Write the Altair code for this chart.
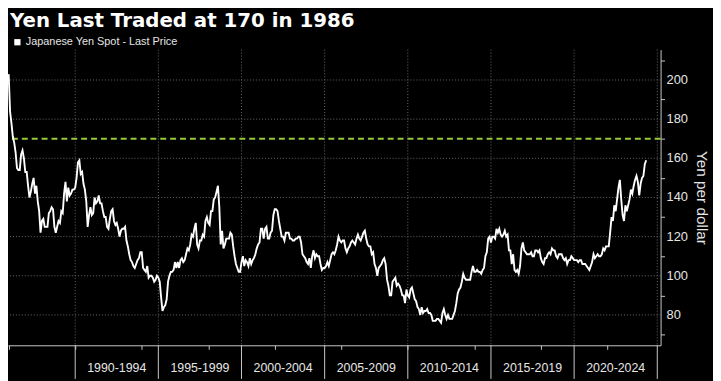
import altair as alt
import pandas as pd

# Monthly USD/JPY (yen per dollar), Jan 1986 onward
jpy_1986_1989 = [
    203, 184, 178, 171, 168, 163, 155, 154, 154, 162, 164, 160,
    153, 153, 146, 140, 143, 147, 150, 142, 146, 138, 133, 122,
    128, 129, 125, 125, 125, 132, 133, 135, 134, 125, 122, 125,
    128, 127, 133, 132, 142, 148, 138, 145, 141, 142, 144, 144,
]
jpy_1990s = [
    145, 150, 158, 159, 152, 153, 147, 144, 138, 125, 131, 135,
    131, 132, 140, 137, 138, 141, 137, 137, 133, 130, 130, 125,
    124, 129, 133, 134, 128, 126, 127, 124, 120, 123, 124, 124,
    125, 118, 115, 111, 108, 107, 105, 104, 106, 108, 109, 112,
    112, 104, 103, 102, 105, 99, 100, 100, 99, 97, 98, 100,
    99, 97, 89, 82, 84, 85, 88, 97, 100, 102, 102, 103,
    107, 104, 107, 104, 108, 109, 107, 108, 111, 114, 113, 116,
    121, 120, 124, 127, 116, 114, 118, 118, 121, 120, 128, 130,
    127, 126, 133, 133, 139, 140, 143, 146, 135, 116, 123, 114,
    116, 119, 119, 119, 122, 121, 115, 110, 106, 104, 102, 102,
]
jpy_2000s = [
    107, 110, 105, 108, 107, 105, 109, 106, 108, 109, 111, 114,
    116, 117, 124, 124, 119, 124, 125, 119, 119, 122, 123, 131,
    134, 134, 133, 128, 124, 120, 120, 118, 122, 122, 122, 119,
    119, 118, 118, 119, 119, 120, 120, 117, 111, 110, 109, 107,
    106, 109, 104, 110, 113, 109, 111, 110, 110, 106, 103, 104,
    104, 105, 107, 105, 108, 111, 112, 111, 113, 116, 120, 118,
    117, 118, 118, 114, 112, 114, 115, 117, 118, 117, 116, 119,
    121, 119, 118, 120, 122, 123, 119, 116, 115, 115, 111, 112,
    106, 104, 100, 104, 105, 106, 108, 109, 106, 98, 95, 90,
    90, 97, 98, 99, 95, 96, 95, 93, 90, 90, 86, 93,
]
jpy_2010s = [
    90, 89, 93, 94, 91, 88, 87, 84, 83, 80, 84, 81,
    82, 82, 83, 81, 81, 80, 77, 77, 77, 78, 78, 77,
    76, 81, 83, 80, 78, 80, 78, 78, 78, 80, 82, 86,
    91, 93, 94, 97, 101, 99, 98, 98, 98, 98, 102, 105,
    102, 102, 103, 102, 102, 101, 103, 104, 110, 112, 119, 120,
    117, 120, 120, 119, 124, 122, 124, 121, 120, 121, 123, 120,
    121, 113, 113, 106, 111, 103, 102, 103, 101, 105, 114, 117,
    113, 112, 111, 111, 111, 112, 110, 110, 113, 113, 112, 113,
    109, 107, 106, 109, 109, 111, 112, 111, 114, 113, 113, 110,
    109, 111, 111, 111, 109, 108, 109, 106, 108, 108, 110, 109,
]
jpy_2020s = [
    108, 108, 108, 107, 108, 108, 106, 106, 106, 105, 104, 103,
    105, 107, 111, 109, 110, 111, 110, 110, 111, 114, 113, 115,
    115, 115, 122, 130, 128, 136, 133, 139, 145, 149, 139, 131,
    128, 136, 133, 136, 139, 144, 142, 146, 149, 151, 148, 141,
    147, 150, 151, 157, 159,
]
start_year = 1986
series_name = "Japanese Yen Spot - Last Price"

period_labels = ["1990-1994", "1995-1999", "2000-2004", "2005-2009",
                 "2010-2014", "2015-2019", "2020-2024"]
period_starts = [1990, 1995, 2000, 2005, 2010, 2015, 2020]
boundaries = [1990, 1995, 2000, 2005, 2010, 2015, 2020, 2025]
y_labels = [80, 100, 120, 140, 160, 180, 200]
y_ticks = [70, 80, 90, 100, 110, 120, 130, 140, 150, 160, 170, 180, 190, 200, 210]
ref_level = 170

values = jpy_1986_1989 + jpy_1990s + jpy_2000s + jpy_2010s + jpy_2020s
df = pd.DataFrame({
    "t": [start_year + i / 12 for i in range(len(values))],
    "v": values,
    "s": series_name,
})
periods = pd.DataFrame({"t": [p + 2.5 for p in period_starts], "label": period_labels})
bounds = pd.DataFrame({"t": boundaries})
grid = pd.DataFrame({"v": y_labels, "txt": [str(v) for v in y_labels]})
ref = pd.DataFrame({"v": [ref_level]})

W, H = 660, 299
xs = alt.Scale(domain=[1985.96, 2025.2], nice=False, zero=False)
ys = alt.Scale(domain=[64.5, 215.5], nice=False, zero=False)
AX = "#c8c8c8"
TXT = "#e6e6e6"
FONT = "Liberation Sans"

X = alt.X("t:Q", scale=xs, title=None)
Y = alt.Y("v:Q", scale=ys, title="Yen per dollar")

vgrid = alt.Chart(bounds).mark_rule(color="#6a6a6a", strokeDash=[1, 2], strokeWidth=1).encode(x=X)
seps = alt.Chart(bounds).mark_rule(color=AX, strokeWidth=1).encode(
    x=X, y=alt.value(H), y2=alt.value(H + 34))
hgrid = alt.Chart(grid).mark_rule(color="#6a6a6a", strokeDash=[1, 2], strokeWidth=1).encode(y=Y)
ylab = alt.Chart(grid).mark_text(color=TXT, fontSize=13, font=FONT, align="left",
                                 baseline="middle").encode(
    y=Y, x=alt.value(W + 6), text="txt:N")
refline = alt.Chart(ref).mark_rule(color="#97c93a", strokeDash=[6, 4], strokeWidth=2).encode(y=Y)

line = alt.Chart(df).mark_line(strokeWidth=1.9, strokeJoin="miter").encode(
    x=alt.X("t:Q", scale=xs, axis=alt.Axis(
        values=list(range(1986, 2026)), labels=False, tickSize=4, grid=False,
        domainColor=AX, tickColor=AX, title=None)),
    y=alt.Y("v:Q", scale=ys, axis=alt.Axis(
        orient="right", values=y_ticks, labels=False,
        tickSize=4, grid=False, domainColor=AX, tickColor=AX,
        title="Yen per dollar", titleColor=TXT, titleFontSize=15.5, titleFont=FONT,
        titleFontWeight="normal", titlePadding=29)),
    color=alt.Color("s:N", scale=alt.Scale(range=["white"]), legend=alt.Legend(
        orient="none", legendX=4, legendY=-13, title=None, symbolType="square",
        symbolSize=40, symbolFillColor="white", symbolStrokeColor="white",
        symbolStrokeWidth=0, labelColor=TXT, labelFontSize=11, labelFont=FONT,
        labelOffset=3)),
)

labels = alt.Chart(periods).mark_text(color=TXT, fontSize=12.5, font=FONT, baseline="alphabetic").encode(
    x=X, y=alt.value(H + 27), text="label:N")

chart = alt.layer(hgrid, vgrid, seps, refline, line, labels, ylab).properties(
    width=W, height=H,
    padding={"left": 0, "top": 40, "right": 53, "bottom": 34},
    autosize=alt.AutoSizeParams(type="none"),
    title=alt.Title("Yen Last Traded at 170 in 1986", anchor="start", frame="group",
                    fontSize=20, font="DejaVu Sans", fontWeight="bold", color="white",
                    offset=6, dx=2),
    background="black",
).configure_view(stroke=None)

chart.save("out.html", embed_options={"renderer": "svg", "actions": False})
